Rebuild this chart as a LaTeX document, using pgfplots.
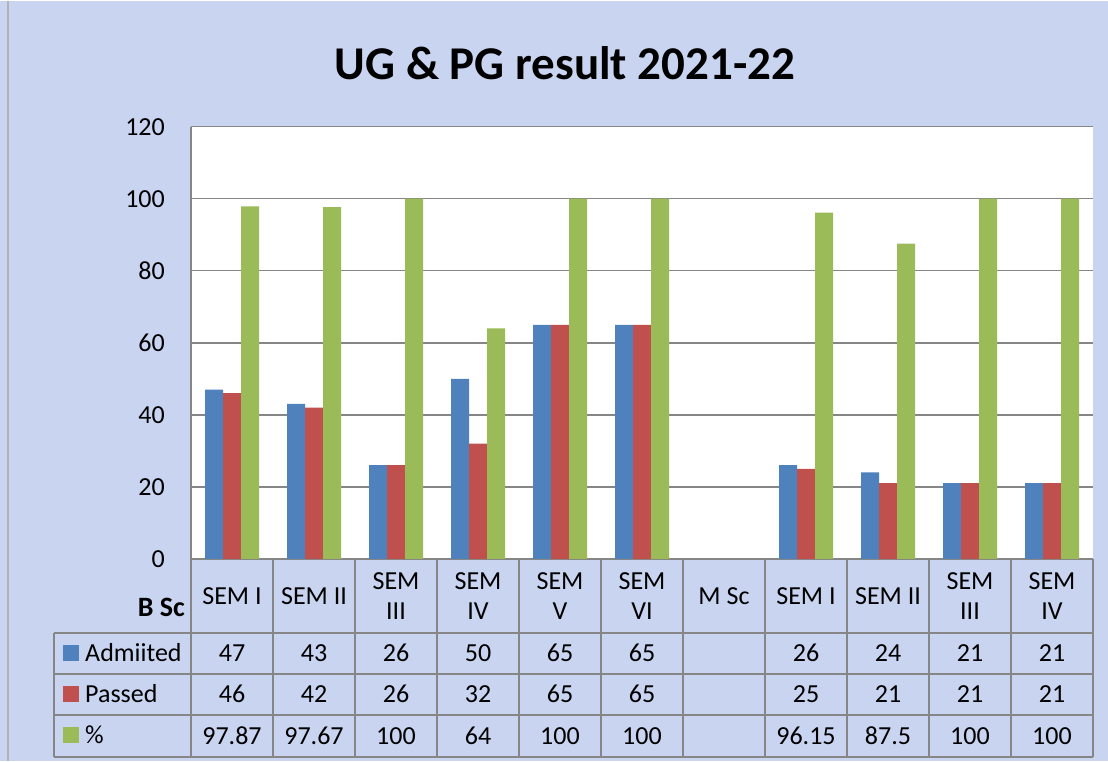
\documentclass[border=0pt]{standalone}
\usepackage{pgfplots}
\pgfplotsset{compat=1.18}
\usepackage{fontspec}
\setmainfont{Carlito}
\definecolor{bg}{RGB}{200,212,240}
\definecolor{cblue}{RGB}{79,129,189}
\definecolor{cred}{RGB}{192,80,77}
\definecolor{cgreen}{RGB}{155,187,89}
\definecolor{lgray}{RGB}{134,134,134}
\newcommand{\tf}{\fontsize{26}{30}\selectfont}
\begin{document}
\begin{tikzpicture}[x=1pt,y=1pt]
\fill[bg] (0,0) rectangle (1108,760);
\draw[gray!60, line width=1.5pt] (8,0)--(8,760);
\node[font=\fontsize{47}{50}\selectfont\bfseries] at (565,698) {UG \& PG result 2021-22};
\fill[white] (191,202) rectangle (1093,634);
\begin{axis}[at={(191pt,202pt)}, anchor=south west, scale only axis,
  width=902pt, height=432pt,
  xmin=-0.5, xmax=10.5, ymin=0, ymax=120,
  ytick={0,20,...,120}, xtick=\empty,
  ymajorgrids, grid style={lgray, line width=1.5pt},
  axis x line=bottom, axis y line=left,
  axis line style={-, lgray, line width=1.5pt},
  major tick length=0pt,
  /pgf/number format/assume math mode=true,
  yticklabel style={font=\tf, inner sep=0pt, xshift=-26pt},
  ybar=0pt, bar width=18pt,
  clip=false]
\addplot[fill=cblue, draw=none] coordinates {(0,47)(1,43)(2,26)(3,50)(4,65)(5,65)(7,26)(8,24)(9,21)(10,21)};
\addplot[fill=cred, draw=none] coordinates {(0,46)(1,42)(2,26)(3,32)(4,65)(5,65)(7,25)(8,21)(9,21)(10,21)};
\addplot[fill=cgreen, draw=none] coordinates {(0,97.87)(1,97.67)(2,100)(3,64)(4,100)(5,100)(7,96.15)(8,87.5)(9,100)(10,100)};
\end{axis}
% table
\foreach \yy in {128,87,46,4} \draw[lgray, line width=2pt] (54,\yy)--(1093,\yy);
\draw[lgray, line width=2pt] (54,128)--(54,4);
\foreach \k in {0,...,11} \draw[lgray, line width=2pt] ({191+82*\k},202)--({191+82*\k},4);
\node[font=\fontsize{28}{30}\selectfont\bfseries, anchor=east, inner sep=0pt] at (185,153) {B Sc};
% headers
\foreach \lab [count=\i from 0] in {SEM I,SEM II,{SEM\\III},{SEM\\IV},{SEM\\V},{SEM\\VI},M Sc,SEM I,SEM II,{SEM\\III},{SEM\\IV}}
  \node[font=\tf, align=center, inner sep=0pt] at ({232+82*\i},165) {\lab};
% legend labels
\fill[cblue] (63,100) rectangle (79,116);
\node[font=\tf, anchor=west, inner sep=0pt] at (85,108) {Admiited};
\fill[cred] (63,59) rectangle (79,75);
\node[font=\tf, anchor=west, inner sep=0pt] at (85,67) {Passed};
\fill[cgreen] (63,18) rectangle (79,34);
\node[font=\tf, anchor=west, inner sep=0pt] at (85,26) {\%};
\foreach \v [count=\i from 0] in {47,43,26,50,65,65,,26,24,21,21}
  \node[font=\tf] at ({232+82*\i},107.5) {\v};
\foreach \v [count=\i from 0] in {46,42,26,32,65,65,,25,21,21,21}
  \node[font=\tf] at ({232+82*\i},66.5) {\v};
\foreach \v [count=\i from 0] in {97.87,97.67,100,64,100,100,,96.15,87.5,100,100}
  \node[font=\tf] at ({232+82*\i},25) {\v};
\end{tikzpicture}
\end{document}
